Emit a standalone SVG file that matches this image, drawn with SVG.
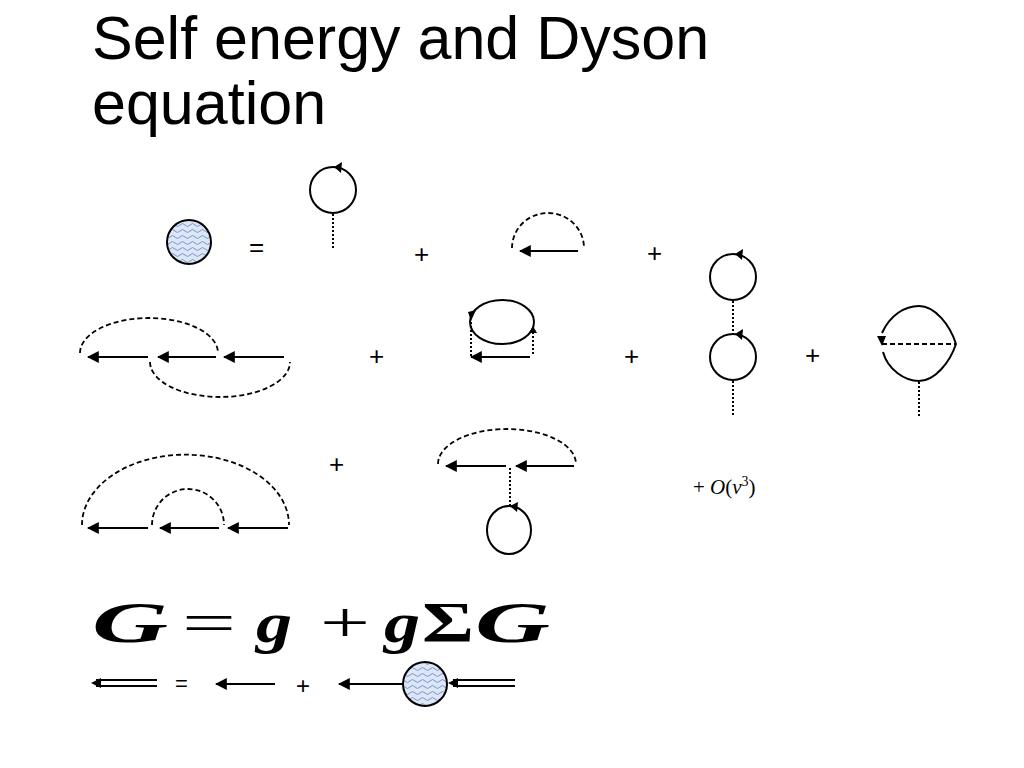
<svg xmlns="http://www.w3.org/2000/svg" width="1024" height="768" viewBox="0 0 1024 768">
<defs>
<marker id="ah" viewBox="0 0 10 10" refX="1" refY="5" markerWidth="6" markerHeight="6" orient="auto"><path d="M10,0 L0,5 L10,10 z" fill="#000"/></marker>
<pattern id="wv" width="10" height="6" patternUnits="userSpaceOnUse"><rect width="10" height="6" fill="#dce6f4"/><path d="M0,3 Q2.5,0 5,3 T10,3" fill="none" stroke="#5b7fc4" stroke-width="0.8"/></pattern>
</defs>
<style>
.t{font-family:"Liberation Sans",Arial,sans-serif;fill:#000}
.s{fill:none;stroke:#000;stroke-width:2}
.a{fill:none;stroke:#000;stroke-width:2;marker-start:url(#ah)}
.d{fill:none;stroke:#000;stroke-width:1.8;stroke-dasharray:5,3}
.o{fill:none;stroke:#000;stroke-width:2;stroke-dasharray:2,2}
.b{fill:url(#wv);stroke:#000;stroke-width:2}
.h{fill:#000}
.eq{font-family:"Liberation Serif","Times New Roman",serif;font-size:56px}
.it{font-style:italic;font-weight:bold}
</style>
<rect width="1024" height="768" fill="#fff"/>
<text class="t" x="92" y="59" font-size="61">Self energy and Dyson</text>
<text class="t" x="92" y="124" font-size="61">equation</text>
<g id="ops" class="t" font-size="26">
<text x="249" y="256">=</text><text x="414" y="263">+</text><text x="647" y="262">+</text>
<text x="369" y="365">+</text><text x="624" y="365">+</text><text x="805" y="364">+</text>
<text x="329" y="473">+</text><text x="175" y="691" font-size="22">=</text><text x="296" y="694" font-size="24">+</text>
</g>
<g id="sigma"><circle class="b" cx="189" cy="242" r="22"/></g>
<g id="d1"><circle class="s" cx="333" cy="190" r="23"/><polygon class="h" points="334,167 342,162 341,173"/></g>
<g id="d2"><path class="d" d="M512,248 A36,35 0 0 1 584,248"/></g>
<g id="d3"><circle class="s" cx="733" cy="277" r="23"/><polygon class="h" points="735,254 743,249 742,260"/><circle class="s" cx="733" cy="357" r="23"/><polygon class="h" points="735,334 743,329 742,340"/></g>
<g id="d4"><path class="s" d="M882,333 C890,315 905,306 919,306 C935,306 950,325 956,344 C950,362 935,381 919,381 C905,381 888,370 883,352"/><polygon class="h" points="877,336 886,336 882,346"/><line class="d" x1="882" y1="344" x2="956" y2="344"/></g>
<g id="d5"><path class="d" d="M80,353 A69,35 0 0 1 218,353"/><path class="d" d="M150,362 A70,35 0 0 0 290,362"/></g>
<g id="d6"><ellipse class="s" cx="502" cy="322" rx="32" ry="22"/><polygon class="h" points="468,312 476,310 471,321"/><polygon class="h" points="529,333 537,333 533,326"/></g>
<g id="d7"><path class="d" d="M82,525 A103,70 0 0 1 289,525"/><path class="d" d="M152,525 A36,36 0 0 1 224,525"/></g>
<g id="d8"><path class="d" d="M438,464 A69,35 0 0 1 576,464"/><ellipse class="s" cx="509" cy="530" rx="22" ry="24"/><polygon class="h" points="510,506 518,502 517,512"/></g>
<g id="sigma2"><circle class="b" cx="425" cy="684" r="22"/></g>
<g id="connectors">
<line class="o" x1="333" y1="214" x2="333" y2="249"/>
<line class="a" x1="520" y1="251" x2="578" y2="251"/>
<line class="o" x1="733" y1="301" x2="733" y2="334"/>
<line class="o" x1="733" y1="381" x2="733" y2="415"/>
<line class="o" x1="919" y1="382" x2="919" y2="417"/>
<line class="a" x1="88" y1="357" x2="148" y2="357"/>
<line class="a" x1="158" y1="357" x2="216" y2="357"/>
<line class="a" x1="224" y1="357" x2="284" y2="357"/>
<line class="o" x1="471" y1="322" x2="471" y2="356"/>
<line class="o" x1="533" y1="328" x2="533" y2="356"/>
<line class="a" x1="471" y1="357" x2="530" y2="357"/>
<line class="a" x1="88" y1="528" x2="148" y2="528"/>
<line class="a" x1="160" y1="528" x2="219" y2="528"/>
<line class="a" x1="228" y1="528" x2="288" y2="528"/>
<line class="a" x1="446" y1="466" x2="506" y2="466"/>
<line class="a" x1="516" y1="466" x2="574" y2="466"/>
<line class="o" x1="510" y1="468" x2="510" y2="505"/>
<line class="s" x1="96" y1="680" x2="157" y2="680"/><line class="s" x1="96" y1="686" x2="157" y2="686"/><polygon class="h" points="91,683 101,678 101,688"/>
<line class="a" x1="216" y1="684" x2="275" y2="684"/>
<line class="a" x1="339" y1="684" x2="403" y2="684"/>
<line class="s" x1="453" y1="680" x2="515" y2="680"/><line class="s" x1="453" y1="686" x2="515" y2="686"/><polygon class="h" points="448,683 458,678 458,688"/>
</g>
<text x="693" y="494" font-family="Liberation Serif,serif" font-size="21">+ <tspan font-style="italic">O</tspan>(<tspan font-style="italic">v</tspan><tspan font-size="14" dy="-8">3</tspan><tspan dy="8">)</tspan></text>
<g id="equation" class="eq">
<text class="it" x="92" y="642" textLength="76" lengthAdjust="spacingAndGlyphs">G</text>
<text x="182" y="642" textLength="54" lengthAdjust="spacingAndGlyphs">=</text>
<text class="it" x="256" y="642" textLength="36" lengthAdjust="spacingAndGlyphs">g</text>
<text x="320" y="642" textLength="50" lengthAdjust="spacingAndGlyphs">+</text>
<text class="it" x="384" y="642" textLength="36" lengthAdjust="spacingAndGlyphs">g</text>
<text x="422" y="642" font-weight="bold" textLength="52" lengthAdjust="spacingAndGlyphs">Σ</text>
<text class="it" x="475" y="642" textLength="75" lengthAdjust="spacingAndGlyphs">G</text>
</g>
</svg>
